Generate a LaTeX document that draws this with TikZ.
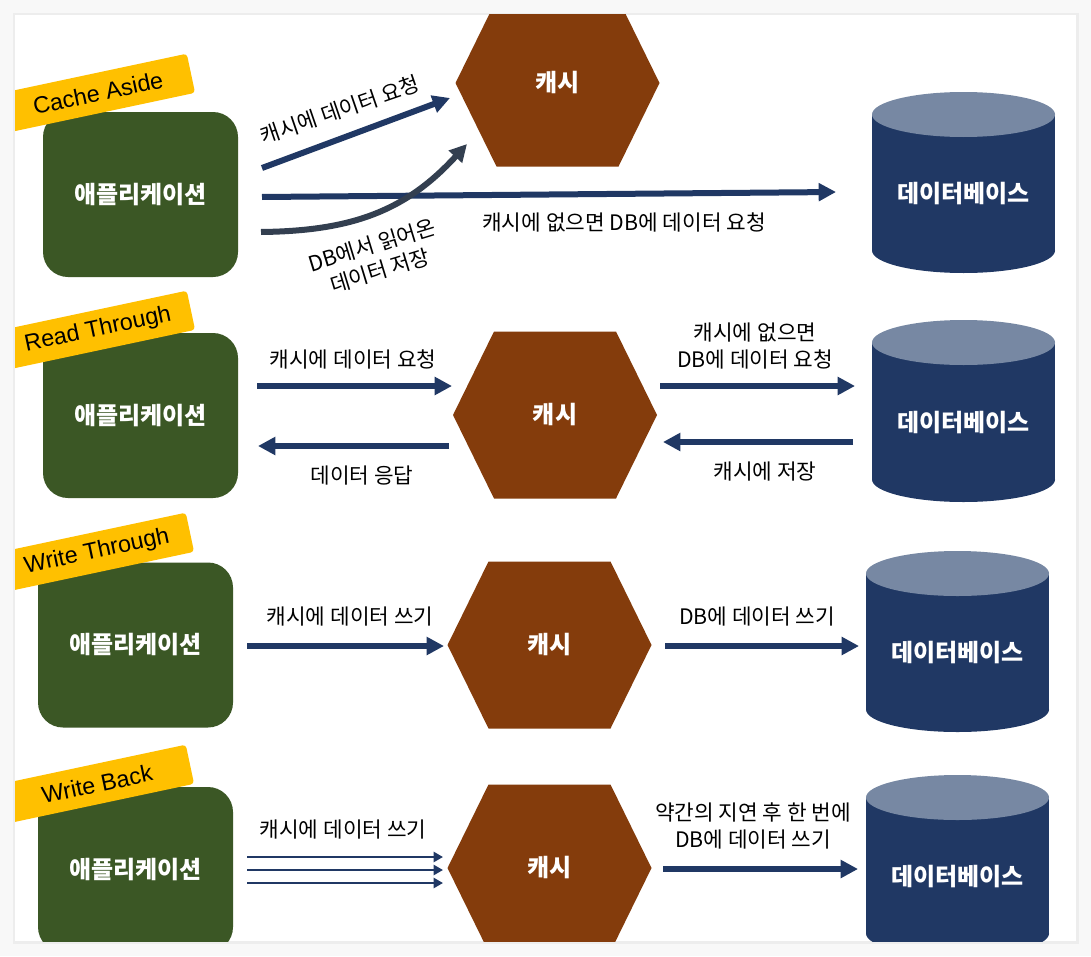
\documentclass[tikz,border=0pt]{standalone}
\usepackage{fontspec}
\setmainfont{Noto Sans CJK KR}
\newfontfamily\tagfont{Liberation Sans}
\usetikzlibrary{arrows.meta,calc}
\definecolor{appgreen}{HTML}{3B5725}
\definecolor{cachebrown}{HTML}{843C0C}
\definecolor{dbnavy}{HTML}{203864}
\definecolor{dbtop}{HTML}{7788A3}
\definecolor{tagyellow}{HTML}{FFC000}
\definecolor{arrownavy}{HTML}{203864}
\definecolor{curvegray}{HTML}{333F50}
\definecolor{bggray}{HTML}{F8F8F8}
\newcommand\cachehex[3]{%
  \fill[cachebrown] (#1-102,#2) -- (#1-61,#2-83.5) -- (#1+61,#2-83.5) -- (#1+102,#2) -- (#1+61,#2+83.5) -- (#1-61,#2+83.5) -- cycle;
  \node[boldlbl] (#3) at (#1,#2) {캐시};}
\newcommand\dbcyl[4]{%
  \fill[dbnavy] (#1-91.5,#2+22.5) rectangle (#1+91.5,#3-22.5);
  \fill[dbnavy] (#1,#3-22.5) ellipse [x radius=91.5, y radius=22.5];
  \fill[dbtop] (#1,#2+22.5) ellipse [x radius=91.5, y radius=22.5];
  \node[boldlbl] (#4) at (#1,{(#2+22.5+#3)/2}) {데이터베이스};}
\begin{document}
\begin{tikzpicture}[x=0.75pt,y=-0.75pt,
  boldlbl/.style={text=white, font=\fontsize{18}{21}\selectfont\bfseries, inner sep=0pt},
  appbox/.style={fill=appgreen, rounded corners=18.75pt, minimum width=146.25pt, minimum height=123.75pt, boldlbl},
  tagbox/.style={fill=tagyellow, rounded corners=2.5pt, minimum width=142.5pt, minimum height=30pt, rotate=12, font=\tagfont\fontsize{17.5}{20}\selectfont, inner sep=0pt},
  lbl/.style={font=\fontsize{16}{20}\selectfont, align=center, inner sep=0pt},
  arr/.style={draw=arrownavy, line width=4.5pt, -{Triangle[length=13pt,width=13pt]}},
  thinarr/.style={draw=arrownavy, line width=2pt, -{Triangle[length=7pt,width=7.5pt]}},
]
\useasboundingbox (0,0) rectangle (1091,956);
\fill[bggray] (0,0) rectangle (1091,956);
\fill[black!7] (13,13) rectangle (1079,944);
\fill[white] (15,15) rectangle (1076,941);
\begin{scope}
\clip (15,15) rectangle (1076,941);

% ---------- Row 1: Cache Aside ----------
\node[appbox] (app1) at (140.5,194.5) {애플리케이션};
\node[tagbox] (tag1) at (98,93) {Cache Aside};
\cachehex{557.5}{83}{cache1}
\dbcyl{963.5}{92}{273}{db1}
\coordinate (r1a1s) at (262,168); \coordinate (r1a1e) at (450,98);
\draw[arr] (r1a1s) -- (r1a1e);
\node[lbl, rotate=19] (r1l1) at (340,110) {캐시에 데이터 요청};
\coordinate (r1a2s) at (262,197); \coordinate (r1a2e) at (836,192);
\draw[arr] (r1a2s) -- (r1a2e);
\node[lbl] (r1l2) at (624,222) {캐시에 없으면 DB에 데이터 요청};
\coordinate (r1a3s) at (261,232); \coordinate (r1a3e) at (467,144);
\draw[arr, draw=curvegray] (r1a3s) .. controls (350,231) and (405,212) .. (r1a3e);
\node[lbl, rotate=17] (r1l3) at (376,258) {DB에서 읽어온\\데이터 저장};

% ---------- Row 2: Read Through ----------
\node[appbox] (app2) at (140.5,415.5) {애플리케이션};
\node[tagbox] (tag2) at (98,330) {Read Through};
\cachehex{555}{415}{cache2}
\dbcyl{963.5}{320}{502}{db2}
\coordinate (r2a1s) at (257,386); \coordinate (r2a1e) at (452,386);
\draw[arr] (r2a1s) -- (r2a1e);
\node[lbl] (r2l1) at (353,359) {캐시에 데이터 요청};
\coordinate (r2a2s) at (449,446); \coordinate (r2a2e) at (258,446);
\draw[arr] (r2a2s) -- (r2a2e);
\node[lbl] (r2l2) at (362,476) {데이터 응답};
\coordinate (r2a3s) at (660,386); \coordinate (r2a3e) at (855,386);
\draw[arr] (r2a3s) -- (r2a3e);
\node[lbl] (r2l3) at (755,346) {캐시에 없으면\\DB에 데이터 요청};
\coordinate (r2a4s) at (853,442); \coordinate (r2a4e) at (663,442);
\draw[arr] (r2a4s) -- (r2a4e);
\node[lbl] (r2l4) at (765,472) {캐시에 저장};

% ---------- Row 3: Write Through ----------
\node[appbox] (app3) at (135.5,645) {애플리케이션};
\node[tagbox] (tag3) at (97,552) {Write Through};
\cachehex{549.5}{645}{cache3}
\dbcyl{957.5}{551}{732}{db3}
\coordinate (r3a1s) at (247,646); \coordinate (r3a1e) at (444,646);
\draw[arr] (r3a1s) -- (r3a1e);
\node[lbl] (r3l1) at (350,617) {캐시에 데이터 쓰기};
\coordinate (r3a2s) at (665,646); \coordinate (r3a2e) at (859,646);
\draw[arr] (r3a2s) -- (r3a2e);
\node[lbl] (r3l2) at (757,617) {DB에 데이터 쓰기};

% ---------- Row 4: Write Back ----------
\node[appbox] (app4) at (135.5,869.5) {애플리케이션};
\node[tagbox] (tag4) at (97,784) {Write Back};
\cachehex{549.5}{868}{cache4}
\dbcyl{957.5}{775}{956}{db4}
\coordinate (r4a1s) at (247,857); \coordinate (r4a1e) at (443,857);
\coordinate (r4a2s) at (247,870); \coordinate (r4a2e) at (443,870);
\coordinate (r4a3s) at (247,883); \coordinate (r4a3e) at (443,883);
\draw[thinarr] (r4a1s) -- (r4a1e);
\draw[thinarr] (r4a2s) -- (r4a2e);
\draw[thinarr] (r4a3s) -- (r4a3e);
\node[lbl] (r4l1) at (343,830) {캐시에 데이터 쓰기};
\coordinate (r4a4s) at (663,869); \coordinate (r4a4e) at (858,869);
\draw[arr] (r4a4s) -- (r4a4e);
\node[lbl] (r4l2) at (753,826) {약간의 지연 후 한 번에\\DB에 데이터 쓰기};
\end{scope}
\end{tikzpicture}
\end{document}
